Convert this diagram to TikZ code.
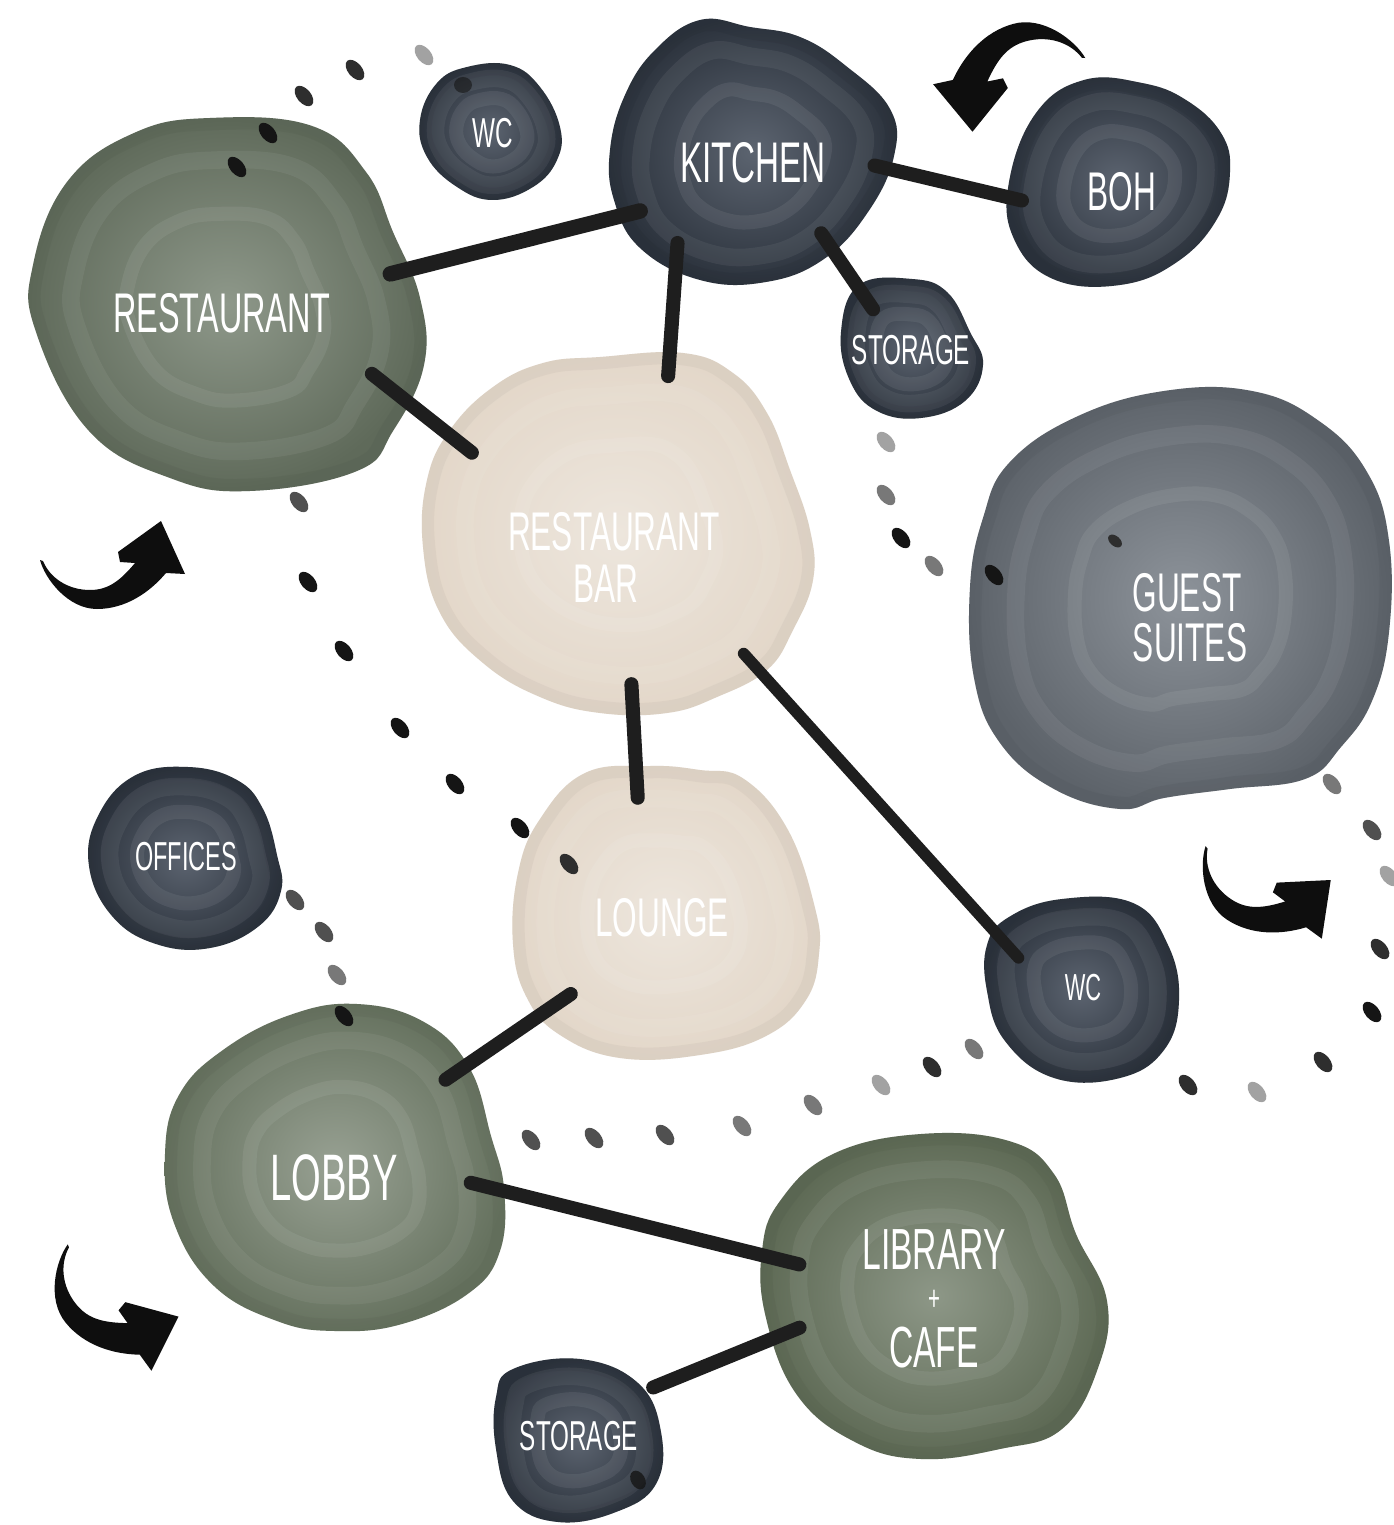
\documentclass[tikz,border=0pt]{standalone}
\usepackage{fontspec}
\newfontfamily\lab[FakeStretch=0.58]{Liberation Sans}
\definecolor{linkc}{HTML}{1E1E1E}
\definecolor{arrowc}{HTML}{0E0E0E}
\definecolor{kA}{HTML}{151515}
\definecolor{kB}{HTML}{2E2E2E}
\definecolor{gA}{HTML}{505050}
\definecolor{gB}{HTML}{787878}
\definecolor{gC}{HTML}{A2A2A2}
\definecolor{grnIn}{HTML}{8E988A}
\definecolor{grnOut}{HTML}{5F6A5A}
\definecolor{lobIn}{HTML}{98A193}
\definecolor{lobOut}{HTML}{66725F}
\definecolor{libIn}{HTML}{8D9787}
\definecolor{libOut}{HTML}{5E6A55}
\definecolor{navIn}{HTML}{5C6470}
\definecolor{navOut}{HTML}{2B323C}
\definecolor{gstIn}{HTML}{8D939A}
\definecolor{gstOut}{HTML}{5D636A}
\definecolor{bgeIn}{HTML}{EDE6DD}
\definecolor{bgeOut}{HTML}{E3D7C9}
\newcommand\fs[1]{\lab\fontsize{#1}{#1}\selectfont}
% blob: cx, cy, inner colour, outer colour, outline points
\newcommand\blob[5]{%
  \begin{scope}
    \clip plot[smooth cycle, tension=0.7] coordinates {#5};
    \shade[inner color=#3, outer color=#4] plot[smooth cycle, tension=0.7] coordinates {#5};
    \draw[#4!80!black, opacity=0.16, line width=7pt] plot[smooth cycle, tension=0.7] coordinates {#5};
    \begin{scope}[shift={(#1,#2)}, scale=0.78, shift={(-#1,-#2)}]
      \draw[white, opacity=0.06, line width=5pt] plot[smooth cycle, tension=0.7] coordinates {#5};
    \end{scope}
    \begin{scope}[shift={(#1,#2)}, scale=0.5, shift={(-#1,-#2)}]
      \draw[white, opacity=0.07, line width=4pt] plot[smooth cycle, tension=0.7] coordinates {#5};
    \end{scope}
  \end{scope}}
% trail dot: x, y, colour
\newcommand\trdot[3]{\fill[#3, rotate around={-50:(#1,#2)}] (#1,#2) ellipse [x radius=12, y radius=7];}
% curved arrow: x, y (tail), rotation, scale
\newcommand\curvarrow[4]{\fill[arrowc, shift={(#1,#2)}, rotate=#3, scale=#4]
  (0,-1) .. controls (5,18) and (28,48) .. (57,48) .. controls (86,48) and (110,31) .. (126,12)
  -- (145,13) -- (121,-40) -- (78,-9) -- (80,1) -- (95,2)
  .. controls (80,20) and (68,29) .. (50,29) .. controls (28,29) and (10,17) .. (3,0) -- cycle;}
\tikzset{
  hub/.style={circle, inner sep=0pt, draw=none},
  lbl/.style={text=white, inner sep=0pt},
  link/.style={draw=linkc, line width=4pt, line cap=round},
}
\begin{document}
\begin{tikzpicture}[x=0.01cm, y=-0.01cm]
\useasboundingbox (0,0) rectangle (1393,1525);
\fill[white] (0,0) rectangle (1393,1525);

% ---- blobs
\blob{222}{310}{grnIn}{grnOut}{(210,118) (312,126) (366,172) (393,232) (420,298) (424,365) (393,431) (357,471) (250,491) (170,478) (89,431) (36,332) (33,265) (67,182) (134,133)}
\blob{493}{133}{navIn}{navOut}{(467,67) (510,65) (540,87) (560,127) (557,160) (533,187) (493,200) (457,187) (427,157) (420,120) (437,83)}
\blob{753}{160}{navIn}{navOut}{(700,20) (750,27) (800,37) (846,66) (890,109) (894,156) (868,212) (824,259) (766,282) (700,280) (640,248) (614,200) (610,150) (625,95) (655,50)}
\blob{1120}{185}{navIn}{navOut}{(1084,80) (1142,83) (1186,100) (1221,133) (1230,172) (1217,219) (1177,262) (1120,285) (1053,279) (1014,239) (1009,182) (1036,113)}
\blob{911}{350}{navIn}{navOut}{(859,285) (912,279) (947,292) (970,332) (983,365) (965,401) (921,418) (877,411) (850,381) (841,332)}
\blob{1180}{600}{gstIn}{gstOut}{(1009,463) (1076,417) (1164,391) (1252,391) (1319,421) (1367,472) (1389,541) (1389,632) (1372,701) (1341,747) (1305,779) (1230,789) (1164,798) (1120,809) (1054,789) (1000,743) (974,678) (970,587) (983,518)}
\blob{618}{535}{bgeIn}{bgeOut}{(600,357) (683,353) (733,373) (767,413) (790,470) (810,530) (813,580) (793,630) (767,670) (717,697) (667,713) (600,713) (540,697) (483,663) (440,613) (423,547) (427,480) (450,430) (493,387) (543,363)}
\blob{662}{915}{bgeIn}{bgeOut}{(585,773) (650,766) (700,770) (744,779) (788,830) (815,908) (819,954) (806,1000) (766,1036) (700,1055) (620,1058) (560,1035) (527,998) (513,944) (518,873) (540,819)}
\blob{186}{857}{navIn}{navOut}{(134,776) (188,767) (237,780) (263,809) (277,855) (281,891) (259,926) (210,948) (156,944) (112,916) (89,866) (98,816)}
\blob{1083}{988}{navIn}{navOut}{(1009,917) (1062,899) (1133,903) (1168,945) (1179,1000) (1164,1050) (1120,1078) (1054,1078) (1005,1041) (987,991) (987,945)}
\blob{334}{1170}{lobIn}{lobOut}{(223,1050) (290,1015) (357,1004) (424,1022) (469,1067) (491,1136) (504,1189) (500,1251) (469,1293) (402,1324) (335,1331) (277,1321) (214,1286) (174,1223) (165,1154) (179,1095)}
\blob{934}{1298}{libIn}{libOut}{(833,1154) (921,1134) (1009,1141) (1054,1174) (1076,1234) (1107,1301) (1098,1368) (1062,1429) (1000,1449) (921,1459) (855,1442) (797,1395) (766,1318) (762,1251) (780,1201)}
\blob{579}{1440}{navIn}{navOut}{(513,1369) (580,1359) (638,1383) (661,1432) (656,1484) (616,1512) (558,1522) (513,1501) (496,1449) (496,1397)}

% ---- nodes with labels
\node[hub, minimum size=3.2cm, label={[lbl, font=\fs{15.9}]center:RESTAURANT}] (rest) at (222,313) {};
\node[hub, minimum size=1.2cm, label={[lbl, font=\fs{11.9}]center:WC}] (wca) at (493,133) {};
\node[hub, minimum size=2.2cm, label={[lbl, font=\fs{16.3}]center:KITCHEN}] (kit) at (753,163) {};
\node[hub, minimum size=1.88cm, label={[lbl, font=\fs{15.5}]center:BOH}] (boh) at (1122,192) {};
\node[hub, minimum size=0.98cm, label={[lbl, font=\fs{11.9}]center:STORAGE}] (stoa) at (911,350) {};
\node[hub, minimum size=3.2cm,
  label={[lbl, font=\fs{15.5}, xshift=-0.04cm, yshift=0.03cm]center:RESTAURANT},
  label={[lbl, font=\fs{15.5}, xshift=-0.12cm, yshift=-0.49cm]center:BAR}] (bar) at (618,535) {};
\node[hub, minimum size=4cm,
  label={[lbl, font=\fs{15.5}, xshift=-0.03cm, yshift=0.25cm]center:GUEST},
  label={[lbl, font=\fs{15.5}, yshift=-0.25cm]center:SUITES}] (guest) at (1190,618) {};
\node[hub, minimum size=1.8cm, label={[lbl, font=\fs{11.5}]center:OFFICES}] (off) at (186,857) {};
\node[hub, minimum size=2.28cm, label={[lbl, font=\fs{15.5}]center:LOUNGE}] (lounge) at (662,918) {};
\node[hub, minimum size=1.3cm, label={[lbl, font=\fs{10.7}]center:WC}] (wcb) at (1083,988) {};
\node[hub, minimum size=2.72cm, label={[lbl, font=\fs{18.7}]center:LOBBY}] (lobby) at (334,1178) {};
\node[hub, minimum size=2.62cm,
  label={[lbl, font=\fs{16.5}, yshift=0.48cm]center:LIBRARY},
  label={[lbl, font=\fs{10}, yshift=-0.02cm]center:+},
  label={[lbl, font=\fs{16.5}, yshift=-0.49cm]center:CAFE}] (lib) at (934,1298) {};
\node[hub, minimum size=1.64cm, label={[lbl, font=\fs{11.9}]center:STORAGE}] (stob) at (579,1436) {};

% ---- connectors
\draw[link, line width=4.4pt, shorten <=0.12cm, shorten >=0.12cm] (rest.13) -- (kit.204);
\draw[link, shorten <=0.01cm, shorten >=0.07cm] (rest.-22) -- (bar.151);
\draw[link, shorten <=-0.01cm, shorten >=0.06cm] (kit.227) -- (bar.72);
\draw[link, shorten <=0.11cm, shorten >=0.06cm] (kit.0) -- (boh.186);
\draw[link, shorten <=-0.13cm, shorten >=0.06cm] (kit.-47) -- (stoa.134);
\draw[link, shorten <=-0.11cm, shorten >=0.08cm] (bar.-85) -- (lounge.102);
\draw[link, line width=3.3pt, shorten <=0.12cm, shorten >=0.06cm] (bar.-43) -- (wcb.157);
\draw[link, shorten <=0.04cm, shorten >=0.12cm] (lounge.220) -- (lobby.42);
\draw[link, shorten <=0cm, shorten >=0.07cm] (lobby.-2) -- (lib.166);
\draw[link, shorten <=0.06cm, shorten >=0.06cm] (lib.192) -- (stob.34);

% ---- dotted trails
\trdot{424}{55}{gC} \trdot{355}{70}{kB} \trdot{304}{96}{kB} \trdot{268}{133}{kA} \trdot{237}{167}{kA}
\fill[kA, opacity=0.6] (463,85) ellipse [x radius=9, y radius=8];
\trdot{299}{502}{gA} \trdot{308}{582}{kA} \trdot{344}{651}{kA} \trdot{400}{728}{kA}
\trdot{455}{784}{kA} \trdot{520}{828}{kA} \trdot{569}{864}{kB}
\trdot{295}{900}{gA} \trdot{324}{932}{gA} \trdot{337}{975}{gB} \trdot{344}{1016}{kA}
\trdot{531}{1140}{gA} \trdot{594}{1138}{gA} \trdot{665}{1135}{gA} \trdot{742}{1126}{gB}
\trdot{813}{1105}{gB} \trdot{881}{1085}{gC} \trdot{932}{1067}{kB} \trdot{974}{1049}{gB}
\trdot{1188}{1085}{kB} \trdot{1257}{1092}{gC} \trdot{1323}{1062}{kB} \trdot{1372}{1012}{kA}
\trdot{1380}{949}{kB} \trdot{1389}{876}{gC} \trdot{1372}{830}{gA} \trdot{1332}{784}{gB}
\trdot{886}{442}{gC} \trdot{886}{495}{gB} \trdot{901}{538}{kA} \trdot{934}{566}{gB}
\trdot{994}{575}{kA}
\fill[kB, rotate around={-40:(1115,541)}] (1115,541) ellipse [x radius=8, y radius=5];
\fill[kA, opacity=0.8, rotate around={-60:(638,1480)}] (638,1480) ellipse [x radius=10, y radius=7];

% ---- curved arrows
\curvarrow{40}{561}{0}{1}
\curvarrow{1085}{57}{-164.7}{1.06}
\curvarrow{1205}{847}{-33}{1.02}
\curvarrow{67}{1245}{-51}{1.04}
\end{tikzpicture}
\end{document}
